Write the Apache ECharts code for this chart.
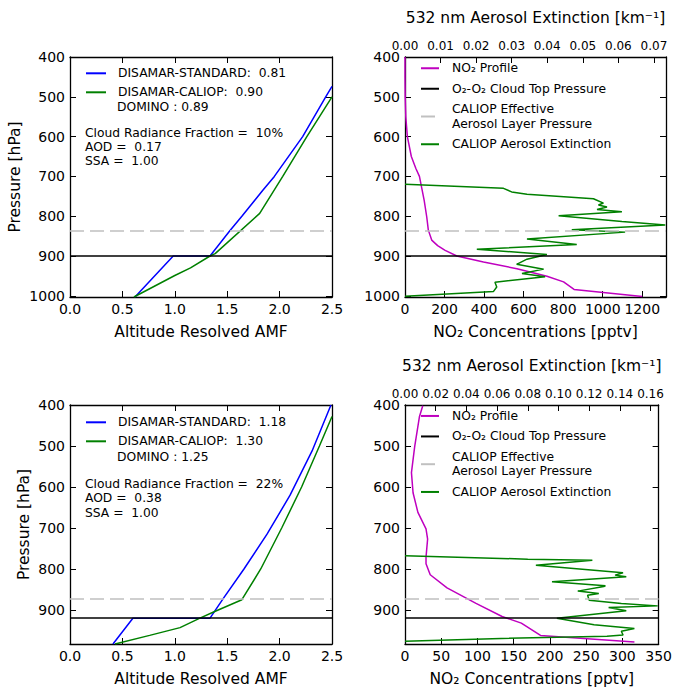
<!DOCTYPE html>
<html><head><meta charset="utf-8">
<script src="https://cdn.jsdelivr.net/npm/echarts@6/dist/echarts.min.js"></script>
<style>html,body{margin:0;padding:0;background:#fff}#c{width:675px;height:688px}</style>
</head><body><div id="c"></div>
<script>
// ---------- tick labels ----------
const amfTicks = [0, 0.5, 1.0, 1.5, 2.0, 2.5];
const pTicksTop = [400, 500, 600, 700, 800, 900, 1000];
const pTicksBot = [400, 500, 600, 700, 800, 900];
const no2TicksTop = [0, 200, 400, 600, 800, 1000, 1200];
const no2TicksBot = [0, 50, 100, 150, 200, 250, 300, 350];
const extTicksTop = [0, 0.01, 0.02, 0.03, 0.04, 0.05, 0.06, 0.07];
const extTicksBot = [0, 0.02, 0.04, 0.06, 0.08, 0.10, 0.12, 0.14, 0.16];

// ---------- reference pressures [hPa] ----------
const cloudTopP = [900, 919];      // O2-O2 cloud top pressure (top case, bottom case)
const aerosolP = [837, 873];       // CALIOP effective aerosol layer pressure

// ---------- case 1 (top row) ----------
const amfStdTop = [[0.62,1003],[0.985,900],[1.336,900],[1.527,836],[1.64,800],[1.84,735],[1.95,700],[2.22,600],[2.44,500],[2.5,474]];
const amfCalTop = [[0.61,1003],[1.0,949],[1.15,930],[1.336,900],[1.385,894],[1.81,793],[2.03,700],[2.26,600],[2.5,500]];
const no2Top = [[0,400],[0,450],[1,500],[4,550],[12,600],[32,650],[55,680],[73,700],[85,730],[97,760],[110,802],[118,835],[135,860],[165,874],[203,886],[262,900],[397,915],[566,932],[718,951],[802,965],[855,984],[1200,1002]];
const extTop = [[0,720],[0.0277,730],[0.030,739],[0.0343,745],[0.053,756],[0.0558,767],[0.0544,772],[0.0568,777],[0.054,783],[0.061,789],[0.0432,799],[0.061,813],[0.0732,822],[0.0469,834],[0.0619,840],[0.0343,857],[0.0483,871],[0.0202,883],[0.0399,896],[0.0343,908],[0.0314,921],[0.039,933],[0.0329,944],[0.0394,952],[0.0253,966],[0.0258,978],[0.0249,989],[0,1001]];

// ---------- case 2 (bottom row) ----------
const amfStdBot = [[0.41,983],[0.6,920],[1.336,920],[1.46,873],[1.66,800],[1.88,715],[2.1,620],[2.31,512],[2.49,400]];
const amfCalBot = [[0.43,983],[0.76,962],[1.05,943],[1.24,920],[1.37,905],[1.64,875],[1.82,800],[2.02,700],[2.21,600],[2.38,500],[2.5,428]];
const no2Bot = [[24.5,402],[20,428],[13.4,501],[8.9,565],[11.1,614],[17.8,662],[29,702],[31.2,727],[29,771],[29,787],[34.8,814],[58,846],[98,884],[134,916],[160.5,932],[187,962],[316.6,978]];
const extBot = [[0,768],[0.080,776],[0.1221,779],[0.0853,791],[0.1421,809],[0.1369,815],[0.1442,819],[0.0958,831],[0.1306,841],[0.1295,843],[0.1126,854],[0.1263,860],[0.119,864],[0.12,876],[0.141,884],[0.1647,890],[0.1327,894],[0.1442,902],[0.099,920],[0.1232,936],[0.1495,945],[0.141,952],[0.1421,961],[0.1316,964],[0.0569,970],[0,976]];

// ---------- texts ----------
const legendLeftTop = ['DISAMAR-STANDARD:  0.81', 'DISAMAR-CALIOP:  0.90'];
const legendLeftBot = ['DISAMAR-STANDARD:  1.18', 'DISAMAR-CALIOP:  1.30'];
const dominoText = ['DOMINO : 0.89', 'DOMINO : 1.25'];
const infoTop = ['Cloud Radiance Fraction =  10%', 'AOD =  0.17', 'SSA =  1.00'];
const infoBot = ['Cloud Radiance Fraction =  22%', 'AOD =  0.38', 'SSA =  1.00'];
const rightNames = ['NO\u2082 Profile', 'O\u2082-O\u2082 Cloud Top Pressure', 'CALIOP Effective\nAerosol Layer Pressure', 'CALIOP Aerosol Extinction'];

const FONT = 'DejaVu Sans';
const BLUE = '#0000ff', GREEN = '#008000', MAG = '#bf00bf', GREY = '#c0c0c0';

const grids = [
  {left:70, top:57, width:262, height:240},
  {left:405, top:57, width:261, height:240},
  {left:70, top:405, width:262, height:241},
  {left:405, top:405, width:261, height:240}
];

function ax(o) {
  return {
    type:'value', gridIndex:o.g, position:o.pos, min:o.min, max:o.max, inverse:!!o.inverse,
    axisLine:{show:true, onZero:false, lineStyle:{color:'#000', width:1.3}},
    axisTick:{show:true, inside:true, length:6, lineStyle:{color:'#000', width:1}, customValues:o.ticks},
    axisLabel:{show:!!o.fmt, customValues:o.ticks, formatter:o.fmt || '', color:'#000', fontFamily:FONT, fontSize:o.fs || 14, margin:o.margin || 5},
    splitLine:{show:false},
    name:o.name || '', nameLocation:'middle', nameGap:o.nameGap || 0, nameRotate:o.rot,
    nameTextStyle:{color:'#000', fontFamily:FONT, fontSize:15.5}
  };
}
const f1 = v => v.toFixed(1), f2 = v => v.toFixed(2), f0 = v => String(Math.round(v));

const xAxis = [
  ax({g:0,pos:'bottom',min:0,max:2.5,ticks:amfTicks,fmt:f1,name:'Altitude Resolved AMF',nameGap:27}),
  ax({g:0,pos:'top',min:0,max:2.5,ticks:amfTicks}),
  ax({g:1,pos:'bottom',min:0,max:1320,ticks:no2TicksTop,fmt:f0,name:'NO\u2082 Concentrations [pptv]',nameGap:27}),
  ax({g:1,pos:'top',min:0,max:0.0734,ticks:extTicksTop,fmt:f2,fs:12,margin:5,name:'532 nm Aerosol Extinction [km\u207B\u00B9]',nameGap:31}),
  ax({g:2,pos:'bottom',min:0,max:2.5,ticks:amfTicks,fmt:f1,name:'Altitude Resolved AMF',nameGap:27}),
  ax({g:2,pos:'top',min:0,max:2.5,ticks:amfTicks}),
  ax({g:3,pos:'bottom',min:0,max:350,ticks:no2TicksBot,fmt:f0,name:'NO\u2082 Concentrations [pptv]',nameGap:27}),
  ax({g:3,pos:'top',min:0,max:0.1653,ticks:extTicksBot,fmt:f2,fs:12,margin:5,name:'532 nm Aerosol Extinction [km\u207B\u00B9]',nameGap:31})
];
const yAxis = [
  ax({g:0,pos:'left',min:400,max:1003,inverse:true,ticks:pTicksTop,fmt:f0,name:'Pressure [hPa]',nameGap:47,rot:90}),
  ax({g:0,pos:'right',min:400,max:1003,inverse:true,ticks:pTicksTop}),
  ax({g:1,pos:'left',min:400,max:1003,inverse:true,ticks:pTicksTop,fmt:f0}),
  ax({g:1,pos:'right',min:400,max:1003,inverse:true,ticks:pTicksTop}),
  ax({g:2,pos:'left',min:400,max:983,inverse:true,ticks:pTicksBot,fmt:f0,name:'Pressure [hPa]',nameGap:38,rot:90}),
  ax({g:2,pos:'right',min:400,max:983,inverse:true,ticks:pTicksBot}),
  ax({g:3,pos:'left',min:400,max:983,inverse:true,ticks:pTicksBot,fmt:f0}),
  ax({g:3,pos:'right',min:400,max:983,inverse:true,ticks:pTicksBot})
];

function curve(name, xi, yi, data, color, z) {
  return {type:'line', name, xAxisIndex:xi, yAxisIndex:yi, data, symbol:'none', color,
    lineStyle:{color, width:1.5}, z:z || 3, animation:false, silent:true};
}
function hline(name, xi, yi, p, color, dashed, z) {
  const ls = {color, width:1.5, type: dashed ? [14, 6] : 'solid'};
  return {type:'line', name, xAxisIndex:xi, yAxisIndex:yi, data:[], symbol:'none', color,
    lineStyle:ls, z:z || 2, animation:false, silent:true,
    markLine:{symbol:'none', silent:true, animation:false, label:{show:false}, lineStyle:ls, data:[{yAxis:p}]}};
}

const series = [
  // top-left
  hline('aer0', 0, 0, aerosolP[0], GREY, true, 1),
  curve(legendLeftTop[0], 0, 0, amfStdTop, BLUE),
  curve(legendLeftTop[1], 0, 0, amfCalTop, GREEN),
  hline('ctp0', 0, 0, cloudTopP[0], '#000', false, 4),
  // top-right
  curve(rightNames[0], 2, 2, no2Top, MAG),
  hline(rightNames[1], 2, 2, cloudTopP[0], '#000', false, 2),
  hline(rightNames[2], 2, 2, aerosolP[0], GREY, true, 1),
  curve(rightNames[3], 3, 2, extTop, GREEN, 4),
  // bottom-left
  hline('aer1', 4, 4, aerosolP[1], GREY, true, 1),
  hline('ctp1', 4, 4, cloudTopP[1], '#000', false, 2),
  curve(legendLeftBot[0], 4, 4, amfStdBot, BLUE),
  curve(legendLeftBot[1], 4, 4, amfCalBot, GREEN),
  // bottom-right
  curve(rightNames[0], 6, 6, no2Bot, MAG),
  hline(rightNames[1], 6, 6, cloudTopP[1], '#000', false, 2),
  hline(rightNames[2], 6, 6, aerosolP[1], GREY, true, 1),
  curve(rightNames[3], 7, 6, extBot, GREEN, 4)
];

const noSymbol = {color:'rgba(0,0,0,0)', borderWidth:0, borderColor:'rgba(0,0,0,0)', opacity:0};
function leftLegend(names, top) {
  return {left:85, top, orient:'vertical', padding:0, itemWidth:20, itemHeight:14, itemGap:5,
    selectedMode:false, data:names, itemStyle:noSymbol,
    textStyle:{fontFamily:FONT, fontSize:12.3, color:'#000', lineHeight:14, padding:[0,0,0,7]}};
}
function rightLegend(top) {
  return {left:420, top, orient:'vertical', padding:0, itemWidth:18, itemHeight:14, itemGap:6,
    selectedMode:false, data:rightNames, itemStyle:noSymbol,
    textStyle:{fontFamily:FONT, fontSize:12.3, color:'#000', lineHeight:14.5, padding:[0,0,0,8]}};
}

function txt(s, x, y) {
  return {type:'text', x, y, silent:true,
    style:{text:s, fontFamily:FONT, fontSize:12.3, fill:'#000', align:'left', verticalAlign:'middle'}};
}

const graphic = [
  txt(dominoText[0], 117, 106.7),
  txt(infoTop[0], 85, 132.7), txt(infoTop[1], 85, 146.7), txt(infoTop[2], 85, 160.5),
  txt(dominoText[1], 117, 457),
  txt(infoBot[0], 85, 484), txt(infoBot[1], 85, 498.3), txt(infoBot[2], 85, 512.7)
];

const chart = echarts.init(document.getElementById('c'), null, {renderer:'svg', width:675, height:688});
chart.setOption({
  backgroundColor:'#fff',
  animation:false,
  grid:grids,
  xAxis, yAxis, series,
  legend:[leftLegend(legendLeftTop, 66.3), rightLegend(61), leftLegend(legendLeftBot, 415.3), rightLegend(408.7)],
  graphic
});
</script></body></html>
